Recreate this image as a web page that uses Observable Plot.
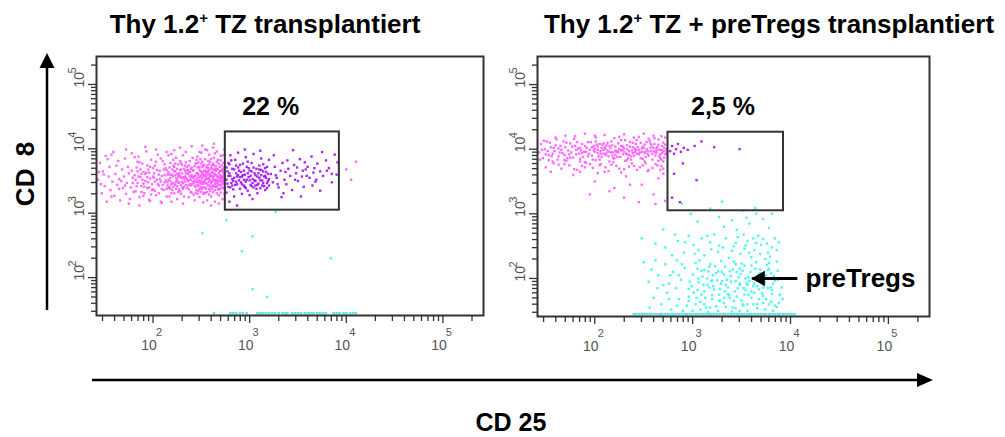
<!DOCTYPE html>
<html>
<head>
<meta charset="utf-8">
<script src="https://cdn.jsdelivr.net/npm/d3@7"></script>
<script src="https://cdn.jsdelivr.net/npm/@observablehq/plot@0.6"></script>
<style>
  html, body { margin: 0; padding: 0; background: #fff; }
  #root { position: relative; width: 1005px; height: 437px; overflow: hidden; font-family: "Liberation Sans", Arial, sans-serif; }
  .panel { position: absolute; top: 0; }
  #overlay { position: absolute; left: 0; top: 0; pointer-events: none; }
</style>
</head>
<body>
<div id="root"></div>
<script>
// ---------------- DATA ----------------
const titleLeft = ["Thy 1.2", "+", " TZ transplantiert"];
const titleRight = ["Thy 1.2", "+", " TZ + preTregs transplantiert"];
const axisYLabel = "CD 8";
const axisXLabel = "CD 25";

const xDomain = [26, 263000];
const yDomain = [25.8, 271600];
const majorTicks = [100, 1000, 10000, 100000];
const exponents = ["2", "3", "4", "5"];

const gateX = [560, 8480];
const gateY = [1115, 18300];
const pctLeft = ["22 %"];
const pctRight = ["2,5 %"];
const pctPosX = [1650, 2040];
const pctPosY = 44700;

const preTregArrowX = [11750, 4070];
const preTregArrowY = 100;
const preTregLabel = "preTregs";
const preTregLabelX = 14260;

// Events, in hundredths of log10 units: x, y, x, y, ...
const leftCD8 = [
 143,352,145,378,147,331,148,365,150,342,151,389,152,318,154,357,155,372,156,336,158,349,159,395,160,327,161,361,163,344,164,381,165,353,166,320,168,368,169,339,170,357,171,385,172,330,173,347,174,372,175,362,176,322,177,340,178,393,179,355,180,333,146,345,149,360,153,384,157,326,162,374,167,350,171,343,175,315,178,366,144,364,157,391,165,338,172,399,179,347,
 181,359,182,334,183,371,184,347,185,388,186,325,187,356,188,342,189,377,190,364,191,331,192,350,193,396,194,339,195,368,196,321,197,354,198,383,199,345,200,337,201,362,202,374,203,328,204,352,205,391,206,343,207,366,208,318,209,358,210,381,211,336,212,348,213,370,214,326,215,360,182,352,184,365,186,379,188,333,190,346,192,361,194,374,196,340,198,329,200,357,202,349,204,367,206,331,208,385,210,344,212,359,214,338,183,342,185,357,187,368,189,352,191,341,193,363,195,348,197,372,199,336,201,355,203,380,205,345,207,353,209,338,211,368,213,351,215,343,181,387,186,312,192,403,197,319,203,399,209,316,214,395,188,361,194,356,200,370,206,360,212,376,184,380,190,327,196,363,202,335,208,349,214,367,
 216,352,217,371,218,338,219,360,220,347,221,383,222,331,223,365,224,354,225,342,226,376,227,359,228,334,229,368,230,349,231,390,232,326,233,357,234,344,235,372,236,361,237,337,238,381,239,352,240,345,241,366,242,329,243,358,244,377,245,348,216,339,218,355,220,368,222,346,224,386,226,333,228,357,230,362,232,341,234,379,236,350,238,364,240,332,242,355,244,341,217,326,219,392,221,357,223,344,225,369,227,348,229,355,231,338,233,366,235,353,237,374,239,343,241,386,243,350,245,362,216,364,218,378,220,336,222,372,224,349,226,357,228,381,230,340,232,369,234,355,236,343,238,358,240,371,242,347,244,358,215,348,217,341,219,345,221,374,223,359,225,352,227,337,229,378,231,356,233,349,235,339,237,364,239,369,241,349,243,373,245,336,216,390,219,318,222,398,225,322,228,402,231,315,234,395,237,325,240,404,243,320,217,360,221,341,225,361,229,344,233,374,237,351,241,356,245,378,218,350,222,365,226,347,230,375,234,362,238,345,242,367,244,352,220,359,224,338,228,367,232,353,236,367,240,359,244,332,223,377,227,362,231,347,235,367,239,356,243,343,219,331,229,330,239,333,
 246,355,247,342,248,368,249,351,250,377,251,338,252,363,253,346,254,384,255,357,256,333,257,370,258,349,259,361,260,341,261,374,262,355,263,367,264,336,265,352,266,380,267,345,268,362,269,372,270,350,271,339,272,365,273,357,274,347,246,371,248,337,250,359,252,348,254,366,256,354,258,376,260,358,262,343,264,369,266,351,268,338,270,366,272,352,274,372,247,360,249,384,251,354,253,332,255,371,257,343,259,358,261,349,263,386,265,359,267,368,269,344,271,358,273,340,246,344,248,357,250,349,252,374,254,340,256,365,258,338,260,370,262,362,264,350,266,358,268,377,270,343,272,357,274,361,247,351,249,365,251,372,253,359,255,347,257,360,259,343,261,364,263,352,265,341,267,356,269,365,271,374,273,368,246,388,248,325,250,394,252,330,254,399,256,320,258,391,260,326,262,402,264,318,266,396,268,328,270,389,272,322,274,399,247,334,249,346,251,362,253,375,255,362,257,353,259,380,261,338,263,358,265,373,267,337,269,353,271,348,273,350,246,362,248,348,250,341,252,357,254,352,256,374,258,355,260,347,262,377,264,361,266,342,268,355,270,382,272,369,274,338,247,379,249,356,251,346,253,366,255,338,257,381,259,351,261,357,263,341,265,366,267,383,269,359,271,366,273,378,246,349,250,365,254,358,258,367,262,351,266,369,270,356,274,354,248,372,252,340,256,346,260,384,264,345,268,350,272,345,249,338,253,350,257,364,261,369,265,347,269,337,273,362,251,380,255,354,259,335,263,375,267,349,271,355,246,330,250,333,254,331,258,329,262,333,266,331,270,332,274,330,248,395,256,398,264,393,272,390,252,317,260,312,268,315,251,405,263,408,245,383,
 276,352,277,365,278,341,279,376,280,358,281,347,282,369,283,337,284,355,285,383,286,362,287,345,288,371,289,351,290,338,291,364,292,357,293,377,294,343,295,360,296,349,297,372,298,335,299,356,300,366,301,344,302,378,303,353,304,340,305,362,306,350,307,369,308,357,309,346,310,374,311,339,312,359,313,351,314,365,315,342,316,370,317,355,318,347,319,361,320,353,276,371,278,358,280,340,282,353,284,368,286,349,288,359,290,375,292,345,294,366,296,339,298,362,300,351,302,342,304,371,306,359,308,344,310,355,312,367,314,347,316,358,318,372,320,343,277,346,279,362,281,382,283,350,285,344,287,357,289,366,291,348,293,359,295,341,297,352,299,370,301,358,303,347,305,351,307,338,309,362,311,351,313,343,315,357,317,364,319,350,276,332,280,390,284,326,288,394,292,330,296,387,300,328,304,392,308,331,312,385,316,336,320,383,278,378,282,343,286,374,290,356,294,352,298,380,302,365,306,343,310,368,314,376,318,339,279,318,287,312,295,399,303,322,311,397,
 322,361,324,348,326,372,328,355,330,340,332,366,334,378,336,352,338,345,340,369,342,358,344,336,346,375,348,362,350,350,352,384,354,357,356,341,358,368,360,372,362,355,364,388,366,363,368,349,370,377,373,365,376,358,379,382,382,370,385,348,388,391,391,379,325,390,335,331,345,398,355,366,365,343,375,395,385,361,327,359,337,364,347,352,357,379,367,370,329,345,339,382,349,371,359,358,369,352,380,366,390,360,333,325,353,326,373,335,
 400,368,405,352,410,380
];
const leftOther = [276,289,251,269,303,264,292,241,384,230,303,182,318,170,327,302];
const leftPile = [263,280,283,286,290,293,297,308,311,314,317,320,323,326,330,334,337,339,344,347,350,353,357,360,363,366,370,373,376,379,387,390,393,397,400,404,407,410];

const rightCD8 = [
 143,395,145,408,147,386,149,400,151,412,153,391,155,403,157,381,159,397,161,415,163,389,165,405,167,394,169,383,171,410,173,398,175,387,177,404,179,416,181,392,183,401,185,385,187,408,189,396,191,379,193,411,195,399,197,390,199,405,201,418,203,394,205,384,207,402,209,409,211,391,213,398,215,381,217,412,219,395,221,404,223,388,225,400,227,414,229,392,231,382,233,406,235,397,237,389,239,410,241,401,243,393,245,419,247,386,249,404,251,396,253,411,255,390,257,402,259,384,261,408,263,398,265,415,267,392,269,405,271,387,273,400,262,395,
 144,384,148,413,152,397,156,389,160,406,164,395,168,412,172,386,176,395,180,405,184,393,188,388,192,402,196,411,200,396,204,389,208,407,212,394,216,402,220,386,224,409,228,399,232,393,236,411,240,390,244,403,248,396,252,388,256,413,260,397,264,403,268,399,272,392,
 146,399,150,392,154,410,158,402,162,384,166,399,170,403,174,392,178,387,182,411,186,398,190,405,194,393,198,384,202,407,206,397,210,403,214,389,218,406,222,396,226,388,230,401,234,386,238,398,242,408,246,395,250,402,254,397,258,406,262,390,266,399,270,410,274,396,
 157,393,163,401,169,391,175,409,181,399,187,394,193,389,199,398,205,408,211,401,217,395,223,397,229,404,235,391,241,396,247,410,253,400,259,393,265,407,271,397,
 200,401,203,404,206,393,209,399,212,406,215,396,218,390,221,398,224,395,227,405,230,396,233,400,236,404,239,394,242,399,245,392,248,401,251,407,254,393,257,397,260,402,263,395,
 201,412,207,388,213,410,219,386,225,419,231,414,237,384,243,414,249,385,255,416,261,417,267,386,
 185,402,191,396,197,403,203,399,209,393,215,405,221,391,227,398,233,392,239,403,245,399,251,394,257,409,263,401,269,394,
 150,372,158,378,166,370,174,375,182,368,190,380,198,371,206,377,214,366,222,374,230,369,238,378,246,372,254,366,262,377,270,370,155,365,171,382,187,374,203,363,219,380,235,373,251,381,267,368,163,376,179,369,195,377,211,372,227,364,243,368,259,371,153,383,169,377,185,381,201,383,217,376,233,383,249,375,265,382,
 160,418,180,420,200,421,220,417,240,418,260,421,
 170,421,190,424,210,422,230,423,250,424,268,420,272,418,
 266,389,269,398,272,407,273,393,271,402,268,384,264,375,270,381,
 178,360,190,372,200,350,210,365,220,340,232,358,240,374,248,345,255,368,260,330,265,355,270,362,272,320,262,315,245,318,230,325,215,335,195,330,185,365,205,375,225,370,252,378,268,374,236,345,
 277,397,279,405,281,393,283,400,285,408,288,396,291,402,295,399,302,405,309,412,322,403,348,400,290,378,304,352,281,362,279,325,287,318
];
const rightPreTregs = [
 289,316,330,319,352,305,365,300,327,295,358,285,305,288,345,275,378,278,332,280,298,300,364,309,270,276,381,300,355,294,318,308,340,290,372,292,
 248,262,262,254,272,248,285,258,296,266,306,244,318,256,326,241,334,262,342,250,349,238,356,258,363,244,370,252,377,240,384,262,312,236,322,268,331,248,346,264,353,246,360,233,367,266,374,230,381,248,388,256,291,240,301,252,279,236,309,262,319,245,337,232,344,255,352,268,358,240,365,255,372,261,379,234,386,244,315,266,327,251,340,243,354,251,362,262,369,238,376,254,292,256,302,238,282,268,
 250,225,258,214,265,205,272,222,276,192,280,210,284,228,288,198,292,216,296,184,300,206,303,224,306,194,309,212,312,180,315,200,318,222,321,188,324,208,327,175,330,196,333,218,336,186,339,204,342,226,345,172,348,192,351,212,354,182,357,202,360,220,363,178,366,197,369,214,372,186,375,205,378,224,381,176,384,196,387,212,391,186,
 301,178,305,215,311,190,316,211,320,174,325,197,329,227,334,190,338,211,343,180,347,202,350,223,355,193,359,210,362,188,367,206,371,177,374,194,377,213,380,186,383,204,
 307,228,313,170,319,196,323,219,328,184,332,206,337,174,341,214,346,185,349,207,353,220,356,190,361,200,364,215,368,183,373,200,376,221,382,192,386,226,
 297,195,289,222,283,185,277,205,270,190,262,228,255,195,310,203,326,211,344,196,358,196,366,188,352,185,335,198,322,183,348,215,317,186,
 260,170,268,160,278,152,286,168,294,158,300,150,308,164,314,155,320,168,326,150,332,162,338,170,344,154,350,166,356,150,362,160,368,168,374,152,380,164,386,156,392,168,
 290,150,304,170,316,148,334,156,348,150,360,170,372,162,382,150,276,168,296,165,312,160,328,166,340,149,352,158,366,154,378,160,388,162,256,155,284,158,
 303,160,309,175,315,190,321,205,327,165,333,180,339,195,345,210,351,160,357,175,363,192,369,208,375,168,381,182,387,198,306,200,318,155,330,210,342,165,354,200,366,160,378,215,312,213,324,157,336,176,348,190,360,180,372,173,384,158,299,188,
 305,182,317,218,329,192,341,155,353,175,365,225,377,185,389,175,296,172,308,152,320,197,332,170,344,222,356,160,368,196,380,208,392,200,286,205,274,178,264,185
];
const rightPile = [240,242,245,248,250,253,256,258,261,264,267,269,272,275,278,280,283,286,289,292,294,297,300,303,305,308,311,314,317,319,322,325,328,331,333,336,339,342,345,347,350,353,356,359,361,364,367,370,373,375,378,381,384,387,389,392,395,398,401,404];
const pileY = 28;

// ---------------- BUILD ----------------
const FONT = "Liberation Sans, Arial, sans-serif";
const C_MAGENTA = "#ff5cff";
const C_PURPLE = "#a000ee";
const C_CYAN = "#4cf6f6";
const C_PILE = "#66e3e3";
const DOT_R = 1.35;

function toPoints(arr) {
  const out = [];
  for (let i = 0; i + 1 < arr.length; i += 2) out.push({x: 10 ** (arr[i] / 100), y: 10 ** (arr[i + 1] / 100)});
  return out;
}
const inGate = d => d.x >= gateX[0] && d.x <= gateX[1] && d.y >= gateY[0] && d.y <= gateY[1];

const minorTicks = [];
for (let e = 1; e <= 5; e++) for (let m = 2; m <= 9; m++) {
  const v = m * 10 ** e;
  if (v >= xDomain[0] && v <= xDomain[1]) minorTicks.push(v);
}

function panel({cd8, other, pile, pct, pctX, marginRight, marginBottom, annotate}) {
  const cd8Pts = toPoints(cd8);
  const otherPts = toPoints(other);
  const pilePts = pile.map(v => ({x: 10 ** (v / 100), y: pileY}));
  const gate = [{x1: gateX[0], x2: gateX[1], y1: gateY[0], y2: gateY[1]}];
  const marks = [
    Plot.dot(pilePts, {x: "x", y: "y", symbol: "square", r: 1.5, fill: C_PILE}),
    Plot.dot(otherPts, {x: "x", y: "y", symbol: "square", r: DOT_R, fill: C_CYAN}),
    Plot.dot(cd8Pts.filter(d => !inGate(d)), {x: "x", y: "y", symbol: "square", r: DOT_R, fill: C_MAGENTA, fillOpacity: 0.9}),
    Plot.dot(cd8Pts.filter(inGate), {x: "x", y: "y", symbol: "square", r: DOT_R, fill: C_PURPLE, fillOpacity: 0.85}),
    Plot.rect(gate, {x1: "x1", x2: "x2", y1: "y1", y2: "y2", fill: "none", stroke: "#333", strokeWidth: 2}),
    Plot.text([pct], {x: () => pctX, y: () => pctPosY, text: d => d, fontSize: 25, fontWeight: "bold", fill: "#000"}),
    Plot.frame({stroke: "#333", strokeWidth: 2}),
    Plot.axisX(minorTicks, {tickSize: 6, tickFormat: () => "", label: null, stroke: "#333", strokeWidth: 1.3}),
    Plot.axisX(majorTicks, {tickSize: 8, tickFormat: () => "", label: null, stroke: "#333", strokeWidth: 1.3}),
    Plot.text(majorTicks, {x: d => d, text: () => "10", frameAnchor: "bottom", dy: 34, dx: -4, fontSize: 14, fill: "#555"}),
    Plot.text(majorTicks, {x: d => d, text: (d, i) => exponents[i], frameAnchor: "bottom", dy: 20, dx: 6, fontSize: 11, fill: "#555"}),
    Plot.axisY(minorTicks, {tickSize: 5, tickFormat: () => "", label: null, stroke: "#333", strokeWidth: 1.3}),
    Plot.axisY(majorTicks, {tickSize: 8, tickFormat: () => "", label: null, stroke: "#333", strokeWidth: 1.3}),
    Plot.text(majorTicks, {y: d => d, text: () => "10", frameAnchor: "left", dx: -17, dy: 3, rotate: -90, fontSize: 14, fill: "#555"}),
    Plot.text(majorTicks, {y: d => d, text: (d, i) => exponents[i], frameAnchor: "left", dx: -24, dy: -11, rotate: -90, fontSize: 11, fill: "#555"})
  ];
  if (annotate) {
    marks.push(
      Plot.link([0], {x1: () => preTregArrowX[0], x2: () => preTregArrowX[1], y1: () => preTregArrowY, y2: () => preTregArrowY, stroke: "#000", strokeWidth: 3}),
      Plot.dot([0], {x: () => preTregArrowX[1], y: () => preTregArrowY, symbol: "triangle", rotate: -90, r: 5.8, fill: "#000", dx: 8}),
      Plot.text([preTregLabel], {x: () => preTregLabelX, y: () => preTregArrowY, text: d => d, textAnchor: "start", fontSize: 26, fontWeight: "bold", fill: "#000"})
    );
  }
  return Plot.plot({
    width: 450, height: 370,
    marginLeft: 46, marginRight, marginTop: 56, marginBottom,
    x: {type: "log", domain: xDomain},
    y: {type: "log", domain: yDomain},
    style: {fontFamily: FONT, background: "none", overflow: "visible"},
    marks
  });
}

const root = document.getElementById("root");
const left = panel({cd8: leftCD8, other: leftOther, pile: leftPile, pct: pctLeft[0], pctX: pctPosX[0], marginRight: 17, marginBottom: 55, annotate: false});
left.classList.add("panel"); left.style.left = "50px";
const right = panel({cd8: rightCD8, other: rightPreTregs, pile: rightPile, pct: pctRight[0], pctX: pctPosX[1], marginRight: 12, marginBottom: 54, annotate: true});
right.classList.add("panel"); right.style.left = "491px";
root.appendChild(left);
root.appendChild(right);

const ov = d3.create("svg").attr("id", "overlay").attr("width", 1005).attr("height", 437)
  .attr("font-family", FONT);
function title(parts, cx) {
  const t = ov.append("text").attr("x", cx).attr("y", 33).attr("text-anchor", "middle")
    .attr("font-size", 26).attr("font-weight", "bold").attr("fill", "#000");
  t.append("tspan").text(parts[0]);
  t.append("tspan").attr("dy", -10).attr("font-size", 15).text(parts[1]);
  t.append("tspan").attr("dy", 10).text(parts[2]);
}
title(titleLeft, 265);
title(titleRight, 769);
ov.append("line").attr("x1", 47).attr("x2", 47).attr("y1", 310).attr("y2", 64).attr("stroke", "#000").attr("stroke-width", 2.5);
ov.append("path").attr("d", "M47,53 L39.5,68 L54.5,68 Z").attr("fill", "#000");
ov.append("line").attr("x1", 92).attr("x2", 920).attr("y1", 380).attr("y2", 380).attr("stroke", "#000").attr("stroke-width", 2.5);
ov.append("path").attr("d", "M933,380 L917,373 L917,387 Z").attr("fill", "#000");
ov.append("text").attr("transform", "translate(25,174) rotate(-90)").attr("text-anchor", "middle")
  .attr("dominant-baseline", "central").attr("font-size", 26).attr("font-weight", "bold").attr("word-spacing", 5).text(axisYLabel);
ov.append("text").attr("x", 511).attr("y", 431).attr("text-anchor", "middle")
  .attr("font-size", 25).attr("font-weight", "bold").text(axisXLabel);
root.appendChild(ov.node());
</script>
</body>
</html>
